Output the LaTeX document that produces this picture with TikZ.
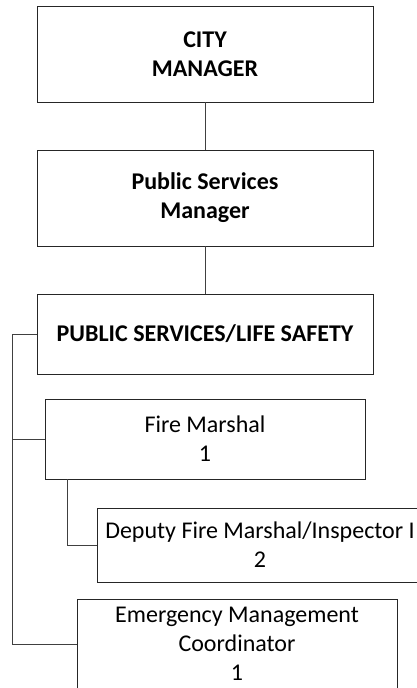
\documentclass[tikz,border=0pt]{standalone}
\usepackage{fontspec}
\setmainfont{Carlito}
\begin{document}
\begin{tikzpicture}[x=1pt,y=-1pt,
  orgbox/.style={draw=black!85, line width=0.9pt, fill=white, inner sep=0pt, align=center,
    font=\fontsize{24}{29}\selectfont},
  conn/.style={draw=black!75, line width=0.8pt}]
\useasboundingbox (0,0) rectangle (417,688);
\clip (0,0) rectangle (417,688);
\fill[white] (0,0) rectangle (417,688);
\node[orgbox, minimum width=336pt, minimum height=96pt, font=\fontsize{24}{29}\selectfont\bfseries] (cm) at (205,54) {CITY\\MANAGER};
\node[orgbox, minimum width=336pt, minimum height=96pt, font=\fontsize{24}{29}\selectfont\bfseries] (psm) at (205,198) {Public Services\\Manager};
\node[orgbox, minimum width=336pt, minimum height=80pt, font=\fontsize{24}{29}\selectfont\bfseries] (ps) at (205,334) {PUBLIC SERVICES/LIFE SAFETY};
\node[orgbox, minimum width=320pt, minimum height=80pt] (fm) at (205,439) {Fire Marshal\\1};
\node[orgbox, minimum width=326pt, minimum height=74pt] (dep) at (260,545) {Deputy Fire Marshal/Inspector I\\2};
\node[orgbox, minimum width=320pt, minimum height=90pt] (em) at (237,644) {Emergency Management\\Coordinator\\1};
\coordinate (spine) at (12,334);
\coordinate (fmb) at (67,479);
\draw[conn] (cm.south) -- (psm.north);
\draw[conn] (psm.south) -- (ps.north);
\draw[conn] (ps.west) -- (spine) |- (em.west);
\draw[conn] (spine) |- (fm.west);
\draw[conn] (fmb) |- (dep.west);
\end{tikzpicture}
\end{document}
